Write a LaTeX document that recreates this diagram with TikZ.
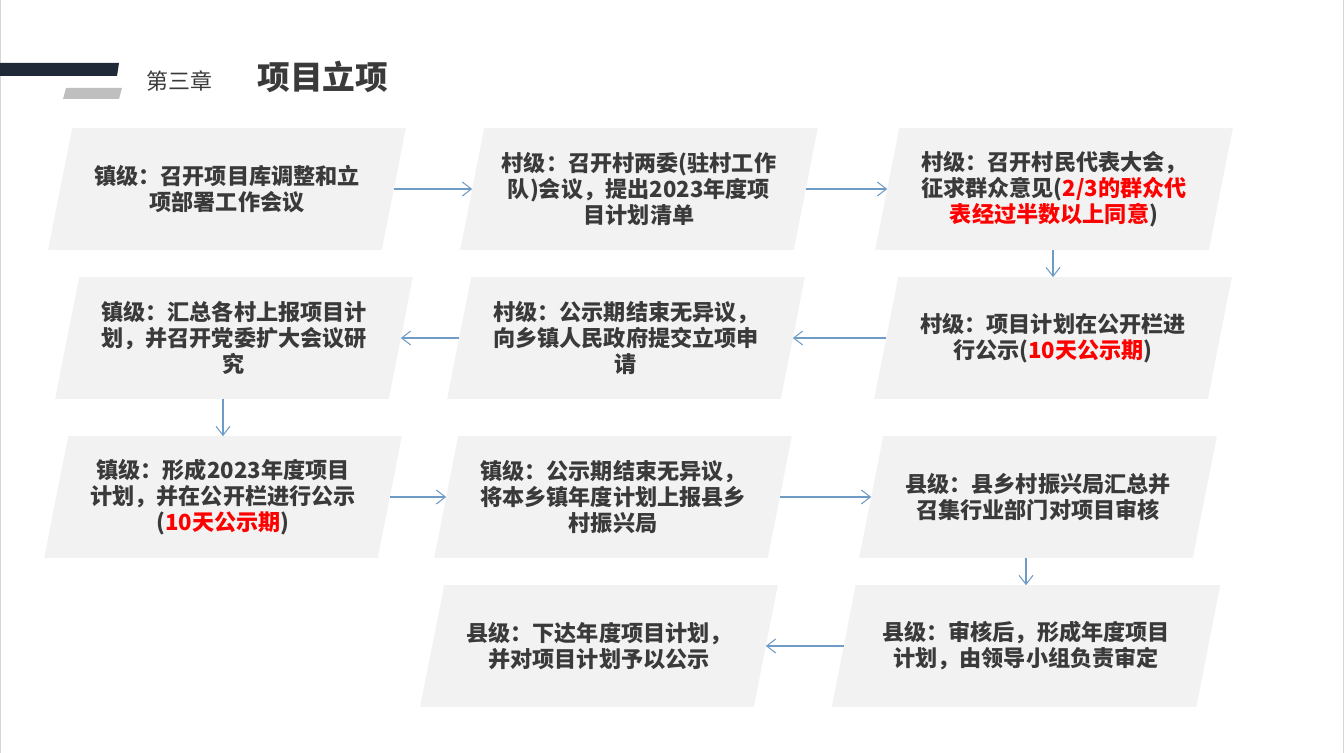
\documentclass[tikz,border=0pt]{standalone}
\usepackage{fontspec}
\usepackage{xcolor}
\usepackage{tikz}
\usetikzlibrary{arrows.meta,backgrounds}
\newfontfamily\cjk{Noto Sans CJK SC}
\definecolor{boxfill}{HTML}{F2F2F2}
\definecolor{inktext}{HTML}{3A3A3A}
\definecolor{flowblue}{HTML}{6F9CC6}
\definecolor{navybar}{HTML}{1F2937}
\definecolor{graybar}{HTML}{BFBFBF}
\definecolor{pageedge}{HTML}{D6D6D6}
\definecolor{alertred}{HTML}{FF0000}
\newcommand{\redtxt}[1]{\textcolor{alertred}{#1}}
\tikzset{
  stage/.style={minimum width=6.66cm, minimum height=2.42cm, inner sep=0pt, align=center,
    text=inktext, font=\cjk\bfseries\fontsize{12.6}{14.8}\selectfont},
  flow/.style={draw=flowblue, line width=0.6pt, -{Straight Barb[length=1.8mm,width=2.8mm]}}
}
\begin{document}
\begin{tikzpicture}[x=0.02cm,y=-0.02cm]
\useasboundingbox (0,0) rectangle (1344,753);
  \draw[pageedge, line width=0.6pt] (0.6,0) -- (0.6,753);
  \draw[pageedge, line width=0.6pt] (1343.4,0) -- (1343.4,753);
  \fill[navybar] (0,63) -- (119,63) -- (117,76) -- (0,76) -- cycle;
  \fill[graybar] (66,88) -- (122,88) -- (119,99) -- (63,99) -- cycle;
  \node[anchor=west, inner sep=0pt, text=inktext, font=\cjk\fontsize{12.5}{14}\selectfont] (chap) at (146,81) {第三章};
  \node[anchor=west, inner sep=0pt, text=inktext, font=\cjk\bfseries\fontsize{18.6}{20}\selectfont] (title) at (257,77) {项目立项};
  \node[stage] (a) at (227,189) {镇级：召开项目库调整和立\\项部署工作会议};
  \node[stage] (b) at (639,189) {村级：召开村两委(驻村工作\\队)会议，提出2023年度项\\目计划清单};
  \node[stage] (c) at (1054,189) {村级：召开村民代表大会，\\征求群众意见(\redtxt{2/3的群众代}\\\redtxt{表经过半数以上同意})};
  \node[stage] (d) at (234,338) {镇级：汇总各村上报项目计\\划，并召开党委扩大会议研\\究};
  \node[stage] (e) at (626,338) {村级：公示期结束无异议，\\向乡镇人民政府提交立项申\\请};
  \node[stage] (f) at (1053,338) {村级：项目计划在公开栏进\\行公示(\redtxt{10天公示期})};
  \node[stage] (g) at (223,497) {镇级：形成2023年度项目\\计划，并在公开栏进行公示\\(\redtxt{10天公示期})};
  \node[stage] (h) at (613,497) {镇级：公示期结束无异议，\\将本乡镇年度计划上报县乡\\村振兴局};
  \node[stage] (i) at (1038,497) {县级：县乡村振兴局汇总并\\召集行业部门对项目审核};
  \node[stage] (j) at (599,646) {县级：下达年度项目计划，\\并对项目计划予以公示};
  \node[stage, minimum width=7.28cm] (k) at (1026,646) {县级：审核后，形成年度项目\\计划，由领导小组负责审定};
  \begin{scope}[on background layer]
    \foreach \n in {a,b,c,d,e,f,g,h,i,j,k}
      \fill[boxfill] ([xshift=0.24cm]\n.north west) -- ([xshift=0.24cm]\n.north east)
        -- ([xshift=-0.24cm]\n.south east) -- ([xshift=-0.24cm]\n.south west) -- cycle;
  \end{scope}
  \draw[flow] (a) -- (b);
  \draw[flow] (b) -- (c);
  \draw[flow] (f.north |- c.south) -- (f.north);
  \draw[flow] (f) -- (e);
  \draw[flow] (e) -- (d);
  \draw[flow] (g.north |- d.south) -- (g.north);
  \draw[flow] (g) -- (h);
  \draw[flow] (h) -- (i);
  \draw[flow] (k.north |- i.south) -- (k.north);
  \draw[flow] (k) -- (j);
\end{tikzpicture}
\end{document}
